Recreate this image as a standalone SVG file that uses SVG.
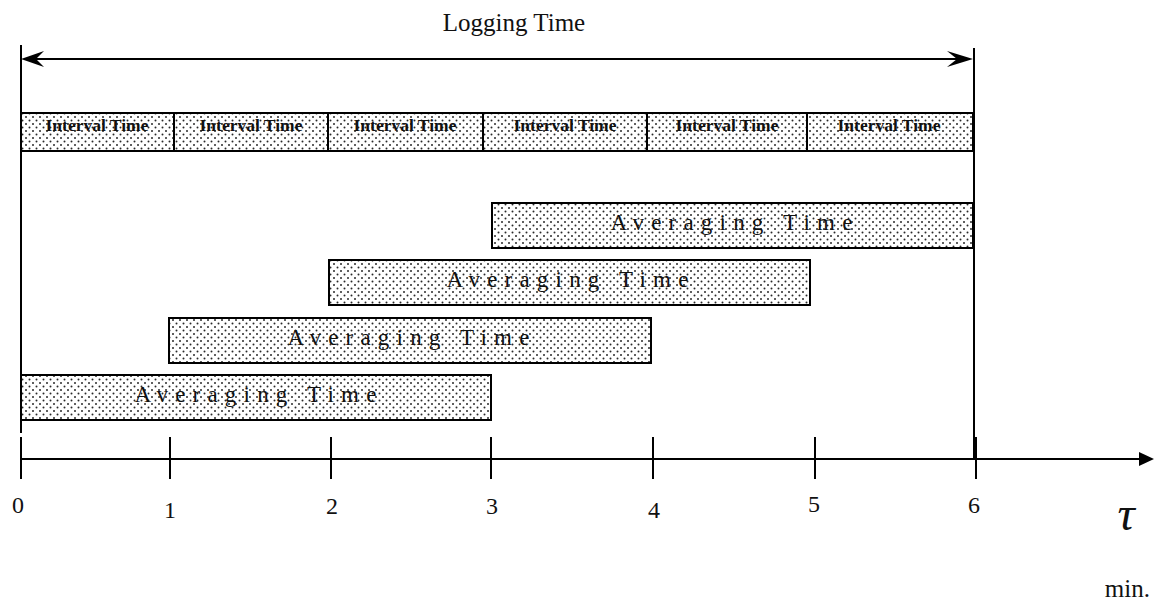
<svg xmlns="http://www.w3.org/2000/svg" width="1156" height="604" viewBox="0 0 1156 604">
  <style>
    .box { fill: url(#stipple); stroke: #000; stroke-width: 2; }
    .line { stroke: #000; stroke-width: 2; fill: none; }
    .ival { font-family: "Liberation Serif", "Times New Roman", serif; font-weight: bold; font-size: 17.5px; fill: #111; text-anchor: middle; }
    .avg { font-family: "Liberation Serif", "Times New Roman", serif; font-size: 23px; letter-spacing: 7.2px; fill: #111; text-anchor: middle; }
    .num { font-family: "Liberation Serif", "Times New Roman", serif; font-size: 24px; fill: #111; text-anchor: middle; }
    .title { font-family: "Liberation Serif", "Times New Roman", serif; font-size: 25px; fill: #111; text-anchor: middle; }
  </style>
  <defs>
    <!-- stippled dot fill used by all time blocks -->
    <pattern id="stipple" width="7" height="7" patternUnits="userSpaceOnUse">
      <rect width="7" height="7" fill="#fff"/>
      <circle cx="1.5" cy="1.5" r="1" fill="#2a2a2a"/>
      <circle cx="5" cy="5" r="1" fill="#2a2a2a"/>
    </pattern>
  </defs>
  <rect width="1156" height="604" fill="#fff"/>

  <!-- logging time span -->
  <g id="logging-time">
    <line class="line" x1="21" y1="45" x2="21" y2="433"/>
    <line class="line" x1="974" y1="48" x2="974" y2="458"/>
    <line class="line" x1="30" y1="59" x2="965" y2="59"/>
    <polygon points="21,59 44,51 36,59 44,67" fill="#000"/>
    <polygon points="973,59 947,51 957,59 947,67" fill="#000"/>
    <text class="title" x="514" y="31">Logging Time</text>
  </g>

  <!-- interval time blocks -->
  <g id="interval-1"><rect class="box" x="21" y="113" width="153" height="38"/><text class="ival" x="97" y="131">Interval Time</text></g>
  <g id="interval-2"><rect class="box" x="174" y="113" width="154" height="38"/><text class="ival" x="251" y="131">Interval Time</text></g>
  <g id="interval-3"><rect class="box" x="328" y="113" width="155" height="38"/><text class="ival" x="405" y="131">Interval Time</text></g>
  <g id="interval-4"><rect class="box" x="483" y="113" width="164" height="38"/><text class="ival" x="565" y="131">Interval Time</text></g>
  <g id="interval-5"><rect class="box" x="647" y="113" width="160" height="38"/><text class="ival" x="727" y="131">Interval Time</text></g>
  <g id="interval-6"><rect class="box" x="807" y="113" width="166" height="38"/><text class="ival" x="889" y="131">Interval Time</text></g>

  <!-- averaging windows -->
  <g id="averaging-4"><rect class="box" x="492" y="203" width="481" height="45"/><text class="avg" x="735" y="230">Averaging Time</text></g>
  <g id="averaging-3"><rect class="box" x="329" y="260" width="481" height="45"/><text class="avg" x="571" y="287">Averaging Time</text></g>
  <g id="averaging-2"><rect class="box" x="169" y="318" width="482" height="45"/><text class="avg" x="412" y="345">Averaging Time</text></g>
  <g id="averaging-1"><rect class="box" x="21" y="375" width="470" height="45"/><text class="avg" x="259" y="402">Averaging Time</text></g>

  <!-- time axis -->
  <g id="axis">
    <line class="line" x1="21" y1="459" x2="1142" y2="459"/>
    <polygon points="1154,459 1139,452 1139,466" fill="#000"/>
    <g class="line">
      <line x1="21" y1="437" x2="21" y2="479"/>
      <line x1="170" y1="437" x2="170" y2="479"/>
      <line x1="331" y1="437" x2="331" y2="479"/>
      <line x1="491" y1="437" x2="491" y2="479"/>
      <line x1="653" y1="437" x2="653" y2="479"/>
      <line x1="815" y1="437" x2="815" y2="479"/>
      <line x1="976" y1="437" x2="976" y2="479"/>
    </g>
    <text class="num" x="18" y="513">0</text>
    <text class="num" x="170" y="518">1</text>
    <text class="num" x="332" y="514">2</text>
    <text class="num" x="492" y="514">3</text>
    <text class="num" x="654" y="518">4</text>
    <text class="num" x="814" y="512">5</text>
    <text class="num" x="974" y="513">6</text>
    <text x="1126" y="530" font-family="Liberation Serif, Times New Roman, serif" font-style="italic" font-size="48" fill="#111" text-anchor="middle">τ</text>
    <text x="1150" y="597" font-family="Liberation Serif, Times New Roman, serif" font-size="25" fill="#111" text-anchor="end">min.</text>
  </g>
</svg>
